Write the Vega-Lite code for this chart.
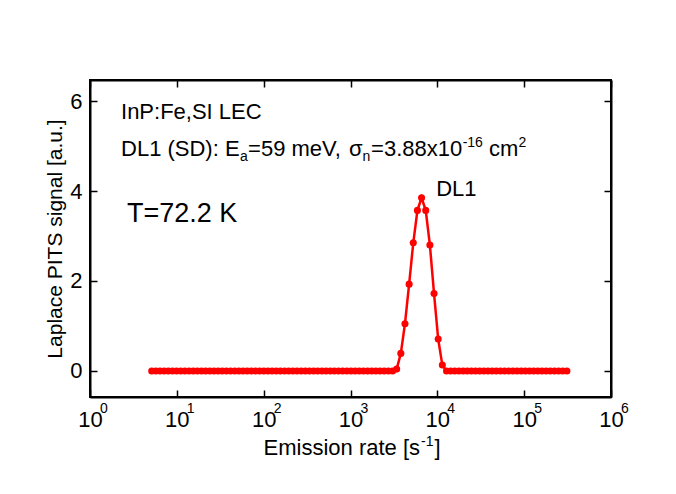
{
  "$schema": "https://vega.github.io/schema/vega-lite/v6.json",
  "width": 521,
  "height": 317,
  "autosize": {"type": "none"},
  "padding": {"left": 90, "top": 80, "right": 65, "bottom": 97},
  "background": "white",
  "config": {
    "font": "Liberation Sans",
    "view": {"stroke": "black", "strokeWidth": 2},
    "axis": {
      "grid": false,
      "domainColor": "black",
      "domainWidth": 2,
      "tickColor": "black",
      "tickWidth": 1.5,
      "tickSize": -7,
      "labelFlush": false,
      "labelFont": "Liberation Sans",
      "labelFontSize": 22,
      "labelColor": "black",
      "titleFont": "Liberation Sans",
      "titleFontSize": 21,
      "titleFontWeight": "normal",
      "titleColor": "black"
    },
    "text": {"font": "Liberation Sans", "color": "black", "align": "left", "baseline": "alphabetic"}
  },
  "datasets": {
    "spectrum": [
      {"rate": 5.136, "signal": 0}, {"rate": 5.734, "signal": 0}, {"rate": 6.401, "signal": 0},
      {"rate": 7.146, "signal": 0}, {"rate": 7.978, "signal": 0}, {"rate": 8.906, "signal": 0},
      {"rate": 9.943, "signal": 0}, {"rate": 11.10, "signal": 0}, {"rate": 12.39, "signal": 0},
      {"rate": 13.83, "signal": 0}, {"rate": 15.44, "signal": 0}, {"rate": 17.24, "signal": 0},
      {"rate": 19.25, "signal": 0}, {"rate": 21.49, "signal": 0}, {"rate": 23.99, "signal": 0},
      {"rate": 26.78, "signal": 0}, {"rate": 29.90, "signal": 0}, {"rate": 33.38, "signal": 0},
      {"rate": 37.26, "signal": 0}, {"rate": 41.60, "signal": 0}, {"rate": 46.44, "signal": 0},
      {"rate": 51.85, "signal": 0}, {"rate": 57.88, "signal": 0}, {"rate": 64.62, "signal": 0},
      {"rate": 72.14, "signal": 0}, {"rate": 80.54, "signal": 0}, {"rate": 89.91, "signal": 0},
      {"rate": 100.4, "signal": 0}, {"rate": 112.0, "signal": 0}, {"rate": 125.1, "signal": 0},
      {"rate": 139.6, "signal": 0}, {"rate": 155.9, "signal": 0}, {"rate": 174.0, "signal": 0},
      {"rate": 194.3, "signal": 0}, {"rate": 216.9, "signal": 0}, {"rate": 242.1, "signal": 0},
      {"rate": 270.3, "signal": 0}, {"rate": 301.8, "signal": 0}, {"rate": 336.9, "signal": 0},
      {"rate": 376.1, "signal": 0}, {"rate": 419.9, "signal": 0}, {"rate": 468.8, "signal": 0},
      {"rate": 523.4, "signal": 0}, {"rate": 584.3, "signal": 0}, {"rate": 652.3, "signal": 0},
      {"rate": 728.2, "signal": 0}, {"rate": 812.9, "signal": 0}, {"rate": 907.6, "signal": 0},
      {"rate": 1013, "signal": 0}, {"rate": 1131, "signal": 0}, {"rate": 1263, "signal": 0},
      {"rate": 1410, "signal": 0}, {"rate": 1574, "signal": 0}, {"rate": 1757, "signal": 0},
      {"rate": 1961, "signal": 0}, {"rate": 2190, "signal": 0}, {"rate": 2445, "signal": 0},
      {"rate": 2729, "signal": 0}, {"rate": 3047, "signal": 0}, {"rate": 3402, "signal": 0.04},
      {"rate": 3798, "signal": 0.39}, {"rate": 4240, "signal": 1.05}, {"rate": 4733, "signal": 1.93},
      {"rate": 5284, "signal": 2.85}, {"rate": 5899, "signal": 3.57}, {"rate": 6586, "signal": 3.85},
      {"rate": 7352, "signal": 3.57}, {"rate": 8208, "signal": 2.80}, {"rate": 9163, "signal": 1.72},
      {"rate": 10230, "signal": 0.71}, {"rate": 11420, "signal": 0.13}, {"rate": 12750, "signal": 0},
      {"rate": 14230, "signal": 0}, {"rate": 15890, "signal": 0}, {"rate": 17740, "signal": 0},
      {"rate": 19800, "signal": 0}, {"rate": 22110, "signal": 0}, {"rate": 24680, "signal": 0},
      {"rate": 27560, "signal": 0}, {"rate": 30760, "signal": 0}, {"rate": 34340, "signal": 0},
      {"rate": 38340, "signal": 0}, {"rate": 42800, "signal": 0}, {"rate": 47780, "signal": 0},
      {"rate": 53340, "signal": 0}, {"rate": 59550, "signal": 0}, {"rate": 66480, "signal": 0},
      {"rate": 74220, "signal": 0}, {"rate": 82860, "signal": 0}, {"rate": 92510, "signal": 0},
      {"rate": 103300, "signal": 0}, {"rate": 115300, "signal": 0}, {"rate": 128700, "signal": 0},
      {"rate": 143700, "signal": 0}, {"rate": 160400, "signal": 0}, {"rate": 179100, "signal": 0},
      {"rate": 199900, "signal": 0}, {"rate": 223200, "signal": 0}, {"rate": 249200, "signal": 0},
      {"rate": 278200, "signal": 0}, {"rate": 310600, "signal": 0}
    ],
    "decades": [
      {"rate": 1, "exponent": "0"}, {"rate": 10, "exponent": "1"}, {"rate": 100, "exponent": "2"},
      {"rate": 1000, "exponent": "3"}, {"rate": 10000, "exponent": "4"}, {"rate": 100000, "exponent": "5"},
      {"rate": 1000000, "exponent": "6"}
    ],
    "notes": [
      {"rate": 2.276, "signal": 5.6, "label": "InP:Fe,SI LEC"},
      {"rate": 2.276, "signal": 4.78, "label": "DL1 (SD): E"},
      {"rate": 66.12, "signal": 4.78, "label": "=59 meV,"},
      {"rate": 963.5, "signal": 4.78, "label": "σ"},
      {"rate": 1727, "signal": 4.78, "label": "=3.88x10"},
      {"rate": 39380, "signal": 4.78, "label": "cm"},
      {"rate": 9690, "signal": 3.89, "label": "DL1"}
    ],
    "subscripts": [
      {"rate": 53.47, "signal": 4.78, "label": "a"},
      {"rate": 1378.5, "signal": 4.78, "label": "n"}
    ],
    "superscripts": [
      {"rate": 19560, "signal": 4.78, "label": "-16"},
      {"rate": 85800, "signal": 4.78, "label": "2"}
    ],
    "temperature": [
      {"rate": 2.67, "signal": 3.31, "label": "T=72.2 K"}
    ],
    "xtitle": [
      {"rate": 6318, "label": "Emission rate [s"}
    ],
    "xtitleexp": [
      {"rate": 6486, "label": "-1"}
    ],
    "xtitleend": [
      {"rate": 9283, "label": "]"}
    ]
  },
  "layer": [
    {
      "data": {"name": "spectrum"},
      "mark": {
        "type": "line",
        "color": "#ff0000",
        "strokeWidth": 2.5,
        "point": {"filled": true, "size": 50, "color": "#ff0000"}
      },
      "encoding": {
        "x": {
          "field": "rate",
          "type": "quantitative",
          "scale": {"type": "log", "domain": [1, 1000000]},
          "axis": {
            "orient": "bottom",
            "values": [1, 10, 100, 1000, 10000, 100000, 1000000],
            "labelExpr": "'10'",
            "labelAlign": "center",
            "labelBaseline": "top",
            "labelDx": -5,
            "labelPadding": 19,
            "title": null
          }
        },
        "y": {
          "field": "signal",
          "type": "quantitative",
          "scale": {"domain": [-0.58, 6.47], "nice": false, "zero": false},
          "axis": {
            "orient": "left",
            "values": [0, 2, 4, 6],
            "labelAlign": "right",
            "labelBaseline": "middle",
            "labelPadding": 15,
            "title": "Laplace PITS signal [a.u.]",
            "titlePadding": 4
          }
        }
      }
    },
    {
      "data": {"name": "spectrum"},
      "mark": {"type": "point", "opacity": 0},
      "encoding": {
        "x": {
          "field": "rate",
          "type": "quantitative",
          "scale": {"type": "log", "domain": [1, 1000000]},
          "axis": {"orient": "top", "values": [1, 10, 100, 1000, 10000, 100000, 1000000], "labels": false, "title": null}
        },
        "y": {
          "field": "signal",
          "type": "quantitative",
          "scale": {"domain": [-0.58, 6.47], "nice": false, "zero": false},
          "axis": {"orient": "right", "values": [0, 2, 4, 6], "labels": false, "title": null}
        }
      }
    },
    {
      "data": {"name": "decades"},
      "mark": {"type": "text", "fontSize": 14, "dx": 10, "dy": 16},
      "encoding": {
        "x": {"field": "rate", "type": "quantitative", "axis": null},
        "y": {"datum": -0.58, "type": "quantitative", "axis": null},
        "text": {"field": "exponent"}
      }
    },
    {
      "data": {"name": "xtitle"},
      "mark": {"type": "text", "fontSize": 22, "dy": 58, "align": "right"},
      "encoding": {
        "x": {"field": "rate", "type": "quantitative", "axis": null},
        "y": {"datum": -0.58, "type": "quantitative", "axis": null},
        "text": {"field": "label"}
      }
    },
    {
      "data": {"name": "xtitleexp"},
      "mark": {"type": "text", "fontSize": 14, "dy": 49},
      "encoding": {
        "x": {"field": "rate", "type": "quantitative", "axis": null},
        "y": {"datum": -0.58, "type": "quantitative", "axis": null},
        "text": {"field": "label"}
      }
    },
    {
      "data": {"name": "xtitleend"},
      "mark": {"type": "text", "fontSize": 22, "dy": 58},
      "encoding": {
        "x": {"field": "rate", "type": "quantitative", "axis": null},
        "y": {"datum": -0.58, "type": "quantitative", "axis": null},
        "text": {"field": "label"}
      }
    },
    {
      "data": {"name": "notes"},
      "mark": {"type": "text", "fontSize": 22},
      "encoding": {
        "x": {"field": "rate", "type": "quantitative", "axis": null},
        "y": {"field": "signal", "type": "quantitative", "axis": null},
        "text": {"field": "label"}
      }
    },
    {
      "data": {"name": "subscripts"},
      "mark": {"type": "text", "fontSize": 14, "dy": 5},
      "encoding": {
        "x": {"field": "rate", "type": "quantitative", "axis": null},
        "y": {"field": "signal", "type": "quantitative", "axis": null},
        "text": {"field": "label"}
      }
    },
    {
      "data": {"name": "superscripts"},
      "mark": {"type": "text", "fontSize": 14, "dy": -9},
      "encoding": {
        "x": {"field": "rate", "type": "quantitative", "axis": null},
        "y": {"field": "signal", "type": "quantitative", "axis": null},
        "text": {"field": "label"}
      }
    },
    {
      "data": {"name": "temperature"},
      "mark": {"type": "text", "fontSize": 27},
      "encoding": {
        "x": {"field": "rate", "type": "quantitative", "axis": null},
        "y": {"field": "signal", "type": "quantitative", "axis": null},
        "text": {"field": "label"}
      }
    }
  ],
  "resolve": {"axis": {"x": "independent", "y": "independent"}}
}
